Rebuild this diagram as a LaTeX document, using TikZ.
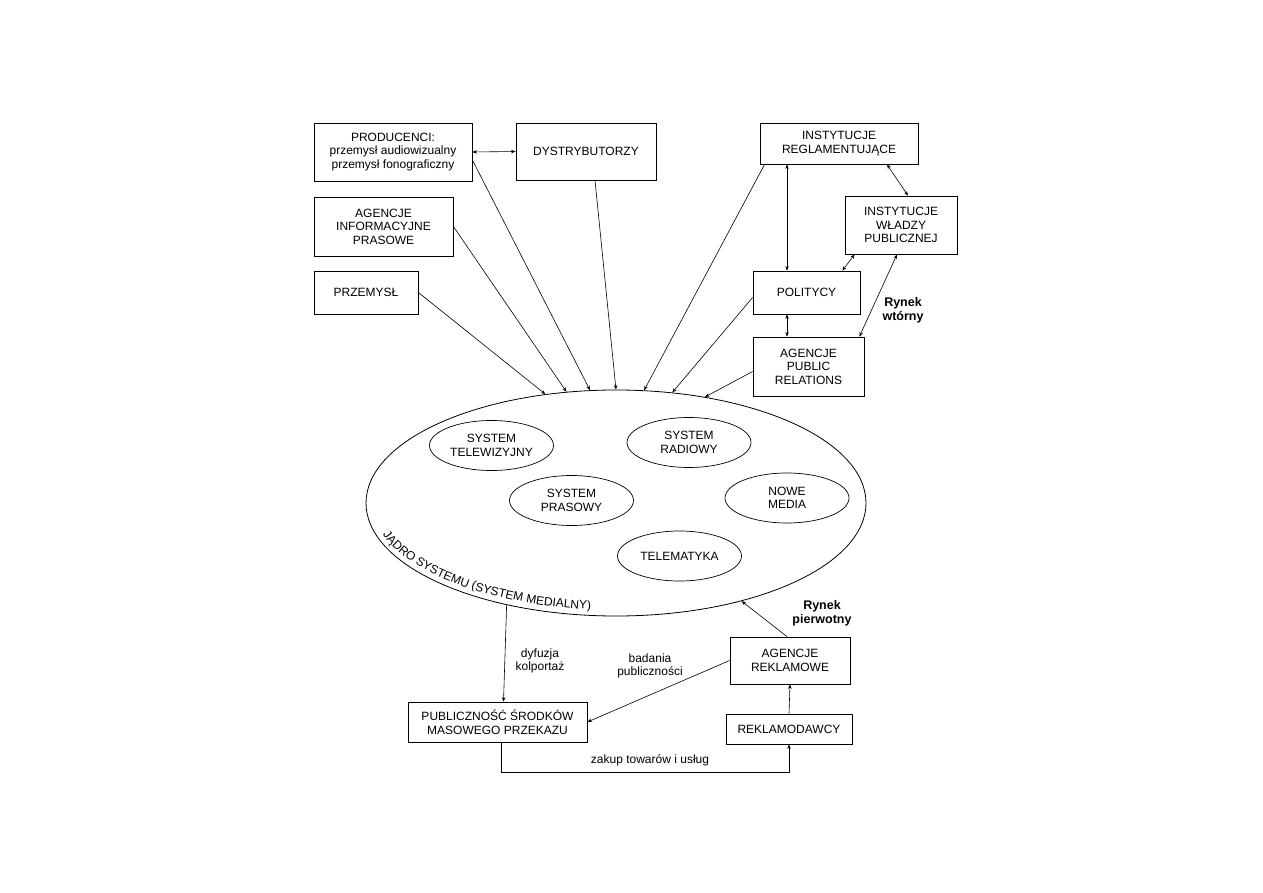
\documentclass[tikz,border=0pt]{standalone}
\usepackage{fontspec}
\setmainfont{Liberation Sans}
\usetikzlibrary{arrows.meta,shapes.geometric,decorations.text,calc}
\begin{document}
\begin{tikzpicture}[x=1pt,y=1pt,
  every node/.style={font=\fontsize{12}{13.5}\selectfont},
  box/.style={draw,line width=0.8pt,align=center,inner sep=0pt},
  oval/.style={draw,ellipse,line width=0.7pt,align=center,inner sep=0pt,minimum width=124pt,minimum height=50pt},
  conn/.style={line width=0.6pt},
  arr/.style={conn,-{Stealth[length=4.5pt,width=3.5pt]}},
  darr/.style={conn,{Stealth[length=4.5pt,width=3.5pt]}-{Stealth[length=4.5pt,width=3.5pt]}},
  lbl/.style={align=center,font=\fontsize{12}{12.5}\selectfont},
  blbl/.style={align=center,font=\bfseries\fontsize{12.5}{14}\selectfont}]
\path[use as bounding box,fill=white] (0,0) rectangle (1263,-893);

% boxes
\node[box,minimum width=158pt,minimum height=58pt] (prod) at (393,-152) {PRODUCENCI:\\przemysł audiowizualny\\przemysł fonograficzny};
\node[box,minimum width=140pt,minimum height=57pt] (dyst) at (586,-151.5) {DYSTRYBUTORZY};
\node[box,minimum width=139pt,minimum height=59pt] (agi) at (383.5,-226.5) {AGENCJE\\INFORMACYJNE\\PRASOWE};
\node[box,minimum width=104pt,minimum height=43pt] (przem) at (366,-292.5) {PRZEMYSŁ};
\node[box,minimum width=158pt,minimum height=41pt] (regl) at (839,-143.5) {INSTYTUCJE\\REGLAMENTUJĄCE};
\node[box,minimum width=112pt,minimum height=58pt] (wladz) at (901,-225) {INSTYTUCJE\\WŁADZY\\PUBLICZNEJ};
\node[box,minimum width=107pt,minimum height=43pt] (polit) at (806.5,-292.5) {POLITYCY};
\node[box,minimum width=111pt,minimum height=59pt] (apr) at (808.5,-366.5) {AGENCJE\\PUBLIC\\RELATIONS};
\node[box,minimum width=179pt,minimum height=40pt] (pub) at (497.5,-722) {PUBLICZNOŚĆ ŚRODKÓW\\MASOWEGO PRZEKAZU};
\node[box,minimum width=120pt,minimum height=47pt] (arekl) at (790,-660.5) {AGENCJE\\REKLAMOWE};
\node[box,minimum width=126pt,minimum height=30pt] (rekl) at (789,-729) {REKLAMODAWCY};

% core ellipse
\node[draw,ellipse,line width=0.8pt,minimum width=500pt,minimum height=226pt,inner sep=0pt] (core) at (616,-503) {};
\node[oval] (tv) at (491.5,-445.5) {SYSTEM\\TELEWIZYJNY};
\node[oval] (radio) at (689,-442.5) {SYSTEM\\RADIOWY};
\node[oval] (prasa) at (571.5,-500.5) {SYSTEM\\PRASOWY};
\node[oval] (nowe) at (787,-498) {NOWE\\MEDIA};
\node[oval] (telem) at (679.5,-556) {TELEMATYKA};

\path[decorate,decoration={text along path,text align=left,
  text={|\fontsize{12}{13}\selectfont|JĄDRO SYSTEMU (SYSTEM MEDIALNY)}}]
  (616,-503) ++(197:244 and 107) arc[start angle=197,end angle=285,x radius=244,y radius=107];

% connectors to the core
\draw[arr] (przem.east) -- (core.123.3);
\draw[arr] (agi.east) -- (core.114.8);
\draw[arr] ([yshift=-8pt]prod.east) -- (core.103);
\draw[arr] ([xshift=9pt]dyst.south) -- (core.90);
\draw[arr] ([xshift=5pt]regl.south west) -- (core.76);
\draw[arr] ([yshift=-5pt]polit.west) -- (core.63);
\draw[arr] ([yshift=-5pt]apr.west) -- (core.50);

% other connectors
\draw[darr] (prod.east) -- (dyst.west);
\coordinate (vx) at (787,0);
\draw[darr] (regl.south -| vx) -- (polit.north -| vx);
\draw[darr] (polit.south -| vx) -- (apr.north -| vx);
\draw[darr] ([xshift=48pt]regl.south) -- ([xshift=7pt]wladz.north);
\draw[darr] ([xshift=10pt]wladz.south west) -- ([xshift=-18pt]polit.north east);
\draw[darr] ([xshift=-4pt]wladz.south) -- ([xshift=-5pt]apr.north east);

\draw[arr] (core.223) -- ([xshift=6pt]pub.north);
\draw[arr] ([xshift=-3pt]arekl.north) -- (core.322.5);
\draw[arr] (arekl.west) -- (pub.east);
\draw[arr] (rekl.north) -- (arekl.south);
\draw[arr] ([xshift=4pt]pub.south) -- ++(0,-30) coordinate (zk) -| (rekl.south);

% labels
\node[blbl] (rw) at (903,-310) {Rynek\\wtórny};
\node[blbl] (rp) at (822,-613) {Rynek\\pierwotny};
\node[lbl] (dk) at (540,-661) {dyfuzja\\kolportaż};
\node[lbl] (bp) at (650,-666) {badania\\publiczności};
\node[lbl,anchor=south] (zt) at (650,-770) {zakup towarów i usług};
\end{tikzpicture}
\end{document}
